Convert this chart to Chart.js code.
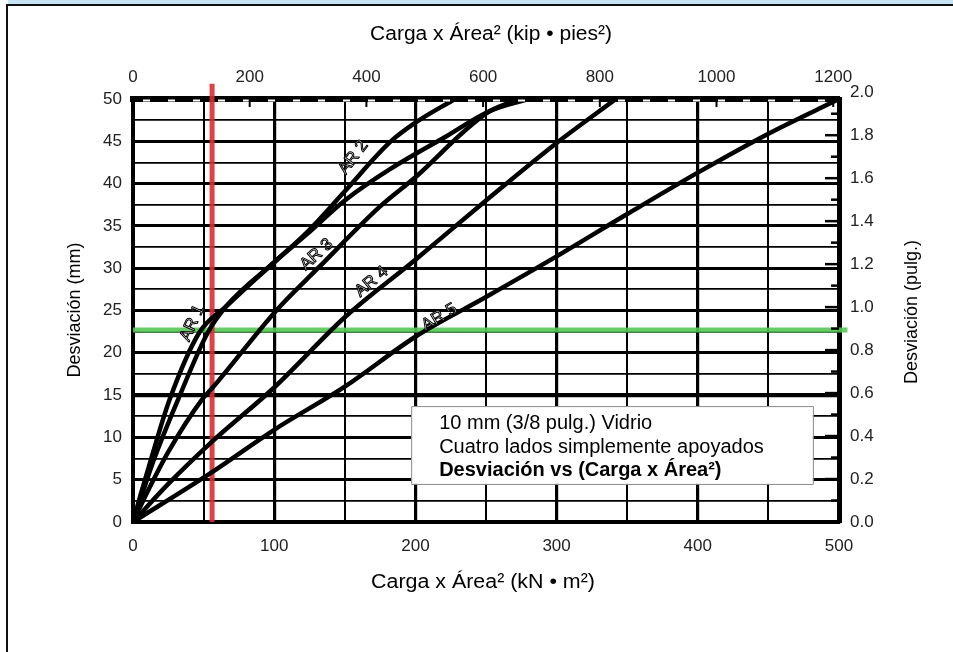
<!DOCTYPE html>
<html lang="es">
<head>
<meta charset="utf-8">
<title>Desviación vs (Carga x Área²)</title>
<script src="https://cdn.jsdelivr.net/npm/chart.js@4.4.1/dist/chart.umd.min.js"></script>
<style>
  html, body { margin: 0; padding: 0; background: #fff; }
  #page { position: relative; width: 953px; height: 652px; overflow: hidden; background: #fff; }
  #box { position: absolute; left: 0; top: 0; width: 953px; height: 652px; }
  #band { position: absolute; left: 8px; top: 0; width: 945px; height: 4px; background: #c6e3f6; }
  #frame { position: absolute; left: 6px; top: 4px; right: 0; bottom: 0; border-top: 2px solid #111; border-left: 2px solid #111; pointer-events: none; }
</style>
</head>
<body>
<div id="page">
  <div id="box"><canvas id="chart"></canvas></div>
  <div id="band"></div>
  <div id="frame"></div>
</div>
<script>
// carga x área² (kN·m²) contra desviación (mm)
const curveNames = ["AR 1", "AR 2", "AR 3", "AR 4", "AR 5"];

const ar1Load = [0, 5, 12, 26, 47, 66, 102, 123, 150, 182, 222, 253, 280];
const ar1Defl = [0, 3, 7, 14.5, 22.4, 25.5, 31, 34, 38, 41.7, 45.6, 48.6, 50];

const ar2Load = [0, 6, 14, 32, 53, 66, 102, 123, 150, 182, 200, 228];
const ar2Defl = [0, 3, 7, 14.5, 22.4, 25.5, 31, 34.2, 39.1, 44.9, 47.2, 50];

const ar3Load = [0, 10, 25, 49, 56, 102, 131, 175, 201, 234, 253, 274];
const ar3Defl = [0, 3.5, 8.3, 14.5, 15.8, 25.1, 30, 37.3, 40.9, 46.1, 48.6, 50];

const ar4Load = [0, 25, 56, 100, 150, 200, 250, 300, 342];
const ar4Defl = [0, 4.5, 9.5, 15.9, 24.2, 31, 38, 44.8, 50];

const ar5Load = [0, 56, 100, 150, 200, 250, 300, 350, 400, 450, 500];
const ar5Defl = [0, 5.9, 10.9, 16, 21.9, 26.6, 31.4, 36.4, 41.3, 45.9, 50];

// líneas de lectura (roja vertical, verde horizontal)
const redLoad = 56;
const greenDefl = 22.7;

// etiquetas de los ejes
const kNTicks = [0, 100, 200, 300, 400, 500];
const kipTicks = [0, 200, 400, 600, 800, 1000, 1200];
const mmTicks = [0, 5, 10, 15, 20, 25, 30, 35, 40, 45, 50];
const inTicks = [0, 0.2, 0.4, 0.6, 0.8, 1.0, 1.2, 1.4, 1.6, 1.8, 2.0];

// donde va cada rótulo "AR n" (en unidades del gráfico)
const arLabelLoad = [42, 156, 130, 169, 217];
const arLabelDefl = [23.5, 43.1, 31.6, 28.4, 24.2];
const arLabelAngle = [-66, -53, -42, -40, -31];

const noteLines = ["10 mm (3/8 pulg.) Vidrio", "Cuatro lados simplemente apoyados", "Desviación vs (Carga x Área²)"];

const KIP_FT2 = 0.413253; // kN·m² por kip·pie²
const MM_IN = 25.4;

const FONT = "'Liberation Sans', Arial, sans-serif";
Chart.defaults.font.family = FONT;
Chart.defaults.color = "#222";

function pts(xs, ys) {
  return xs.map((v, i) => ({ x: v, y: ys[i] }));
}

const curves = [ar1Load, ar2Load, ar3Load, ar4Load, ar5Load].map((xs, i) => ({
  label: curveNames[i],
  data: pts(xs, [ar1Defl, ar2Defl, ar3Defl, ar4Defl, ar5Defl][i]),
  showLine: true,
  borderColor: "#000",
  borderWidth: 4.5,
  pointRadius: 0,
  cubicInterpolationMode: "monotone",
  order: 0,
}));

// texto un poco ensanchado, como en la figura escaneada
function wideText(ctx, text, cx, cy, sx) {
  ctx.save();
  ctx.translate(cx, cy);
  ctx.scale(sx, 1);
  ctx.fillText(text, 0, 0);
  ctx.restore();
}

const extras = {
  id: "extras",
  afterDraw(chart) {
    const { ctx, chartArea: a, scales } = chart;
    const { x, y, x2, y2 } = scales;
    ctx.save();

    // borde superior tipo regla
    ctx.strokeStyle = "#fff";
    ctx.lineWidth = 2;
    ctx.setLineDash([7, 18]);
    ctx.beginPath();
    ctx.moveTo(a.left + 10, a.top + 1.5);
    ctx.lineTo(a.right - 5, a.top + 1.5);
    ctx.stroke();
    ctx.setLineDash([]);
    ctx.strokeStyle = "#000";
    ctx.lineWidth = 2;
    kipTicks.forEach((v) => {
      const px = x2.getPixelForValue(v);
      if (px <= a.left + 4 || px >= a.right - 4) return;
      ctx.beginPath();
      ctx.moveTo(px, a.top);
      ctx.lineTo(px, a.top + 8);
      ctx.stroke();
    });

    // marcas interiores del eje derecho (pulg.)
    ctx.lineWidth = 2.5;
    for (let i = 1; i < 20; i++) {
      const py = y2.getPixelForValue(i / 10);
      const len = i % 2 === 0 ? 14 : 8;
      ctx.beginPath();
      ctx.moveTo(a.right - len, py);
      ctx.lineTo(a.right, py);
      ctx.stroke();
    }

    // rótulos AR
    ctx.font = "17px " + FONT;
    ctx.textAlign = "center";
    ctx.textBaseline = "middle";
    ctx.lineJoin = "round";
    curveNames.forEach((name, i) => {
      ctx.save();
      ctx.translate(x.getPixelForValue(arLabelLoad[i]), y.getPixelForValue(arLabelDefl[i]));
      ctx.rotate((arLabelAngle[i] * Math.PI) / 180);
      ctx.lineWidth = 1;
      ctx.strokeStyle = "#000";
      ctx.fillStyle = "#fff";
      ctx.fillText(name, 0, 0);
      ctx.strokeText(name, 0, 0);
      ctx.restore();
    });

    // recuadro de nota
    const bx = x.getPixelForValue(197);
    const bx2 = x.getPixelForValue(481.5);
    const by = y.getPixelForValue(13.7);
    const by2 = y.getPixelForValue(4.5);
    ctx.fillStyle = "#fff";
    ctx.fillRect(bx, by, bx2 - bx, by2 - by);
    ctx.strokeStyle = "#8a8a8a";
    ctx.lineWidth = 1;
    ctx.strokeRect(bx + 0.5, by + 0.5, bx2 - bx, by2 - by);
    ctx.fillStyle = "#000";
    ctx.textAlign = "left";
    ctx.textBaseline = "alphabetic";
    noteLines.forEach((t, i) => {
      ctx.font = (i === 2 ? "bold " : "") + "20px " + FONT;
      ctx.fillText(t, bx + 28, by + 23 + i * 23.5);
    });

    // títulos de los ejes
    ctx.fillStyle = "#000";
    ctx.textAlign = "center";
    ctx.textBaseline = "middle";
    ctx.font = "20px " + FONT;
    wideText(ctx, "Carga x Área² (kip • pies²)", 491, 34, 1.05);
    wideText(ctx, "Carga x Área² (kN • m²)", 483, 582, 1.07);
    ctx.font = "18px " + FONT;
    ctx.save();
    ctx.translate(75, 310);
    ctx.rotate(-Math.PI / 2);
    ctx.fillText("Desviación (mm)", 0, 0);
    ctx.restore();
    ctx.save();
    ctx.translate(912, 312);
    ctx.rotate(-Math.PI / 2);
    ctx.fillText("Desviación (pulg.)", 0, 0);
    ctx.restore();

    ctx.restore();
  },
};

const tickFont = { size: 17, family: FONT };

new Chart(document.getElementById("chart"), {
  type: "scatter",
  data: {
    datasets: [
      ...curves,
      {
        label: "lectura",
        data: [{ x: redLoad, y: 0 }, { x: redLoad, y: 51.8 }],
        showLine: true,
        borderColor: "rgba(218, 45, 50, 0.9)",
        borderWidth: 5,
        pointRadius: 0,
        clip: false,
        order: 1,
      },
      {
        label: "desviación",
        data: [{ x: 0, y: greenDefl }, { x: 506, y: greenDefl }],
        showLine: true,
        borderColor: "rgba(85, 200, 85, 0.9)",
        borderWidth: 5,
        pointRadius: 0,
        clip: false,
        order: 1,
      },
    ],
  },
  options: {
    responsive: true,
    maintainAspectRatio: false,
    animation: false,
    layout: { padding: 0 },
    plugins: {
      legend: { display: false },
      tooltip: { enabled: false },
    },
    scales: {
      x: {
        type: "linear",
        position: "bottom",
        min: 0,
        max: 500,
        afterFit: (s) => { s.height = 130; },
        grid: {
          color: "#000",
          lineWidth: (c) => (c.tick && c.tick.value % 100 === 0 ? 3.2 : 2),
          drawTicks: false,
        },
        border: { color: "#000", width: 4 },
        ticks: {
          stepSize: 50,
          autoSkip: false,
          maxRotation: 0,
          padding: 14,
          font: tickFont,
          callback: (v) => (kNTicks.includes(v) ? String(v) : ""),
        },
      },
      x2: {
        type: "linear",
        position: "top",
        min: 0,
        max: 500 / KIP_FT2,
        afterFit: (s) => { s.height = 99; },
        afterBuildTicks: (s) => { s.ticks = kipTicks.map((v) => ({ value: v })); },
        grid: { drawOnChartArea: false, drawTicks: false },
        border: { color: "#000", width: 6 },
        ticks: {
          autoSkip: false,
          maxRotation: 0,
          padding: 11,
          font: tickFont,
          callback: (v) => String(v),
        },
      },
      y: {
        type: "linear",
        position: "left",
        min: 0,
        max: 50,
        afterFit: (s) => { s.width = 133; },
        grid: {
          color: "#000",
          lineWidth: (c) => {
            if (!c.tick) return 2;
            if (c.tick.value === 15) return 4.2;
            return c.tick.value % 5 === 0 ? 3 : 1.8;
          },
          drawTicks: false,
        },
        border: { color: "#000", width: 4 },
        ticks: {
          stepSize: 2.5,
          autoSkip: false,
          padding: 11,
          font: tickFont,
          callback: (v) => (mmTicks.includes(v) ? String(v) : ""),
        },
      },
      y2: {
        type: "linear",
        position: "right",
        min: 0,
        max: 50 / MM_IN,
        afterFit: (s) => { s.width = 114; },
        afterBuildTicks: (s) => { s.ticks = inTicks.map((v) => ({ value: v })); },
        grid: { drawOnChartArea: false, drawTicks: false },
        border: { color: "#000", width: 5 },
        ticks: {
          autoSkip: false,
          padding: 11,
          font: tickFont,
          callback: (v) => v.toFixed(1),
        },
      },
    },
  },
  plugins: [extras],
});
</script>
</body>
</html>
